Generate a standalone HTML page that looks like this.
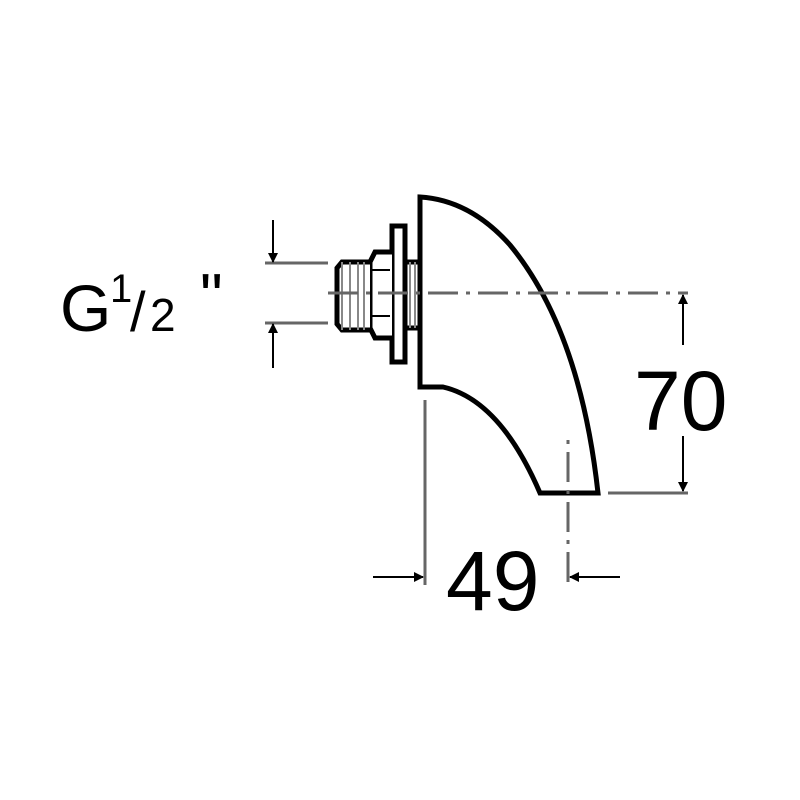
<!DOCTYPE html>
<html><head><style>body{margin:0;background:#fff}svg{display:block}</style></head><body>
<svg width="800" height="800" viewBox="0 0 800 800" xmlns="http://www.w3.org/2000/svg">
<defs><marker id="a" markerWidth="10" markerHeight="10" refX="9" refY="5" orient="auto" markerUnits="userSpaceOnUse"><path d="M0,0 L10,5 L0,10 Z" fill="#000"/></marker></defs>
<g fill="none" stroke="#000" stroke-width="5">
<path d="M420,197 Q470,200 510,245 Q580,330 598,493 L540,493 Q500,400 443,387 L420,387 Z" fill="#fff"/>
<rect x="392" y="226" width="13" height="136" fill="#fff"/>
<path d="M392,252 L375,252 L370,262 L370,328 L375,338 L392,338" fill="#fff"/>
<path d="M370,262 L342,262 L337,268 L337,324 L342,330 L370,330" fill="#fff"/>
<path d="M405,262 L420,262 M405,328 L420,328"/>
</g>
<g stroke="#000" stroke-width="2" fill="none">
<path d="M342,262 V330 M350,262 V330 M358,262 V330 M364,262 V330 M410,262 V328 M415,262 V328" stroke="#888"/>
<path d="M372,270 H390 M372,316 H390" />
</g>
<g stroke="#666" stroke-width="3" fill="none">
<line x1="265" y1="263" x2="328" y2="263"/>
<line x1="265" y1="323" x2="328" y2="323"/>
<line x1="328" y1="293" x2="688" y2="293" stroke-dasharray="30,8,4,8"/>
<line x1="608" y1="493" x2="688" y2="493"/>
<line x1="425" y1="400" x2="425" y2="585"/>
<line x1="568" y1="440" x2="568" y2="585" stroke-dasharray="4,8,30,8"/>
</g>
<g stroke="#000" stroke-width="2">
<line x1="273" y1="220" x2="273" y2="262" marker-end="url(#a)"/>
<line x1="273" y1="368" x2="273" y2="324" marker-end="url(#a)"/>
<line x1="683" y1="345" x2="683" y2="295" marker-end="url(#a)"/>
<line x1="683" y1="436" x2="683" y2="491" marker-end="url(#a)"/>
<line x1="373" y1="577" x2="423" y2="577" marker-end="url(#a)"/>
<line x1="620" y1="577" x2="570" y2="577" marker-end="url(#a)"/>
</g>
<g font-family="Liberation Sans, sans-serif" fill="#000">
<text x="60" y="331" font-size="66">G</text>
<text x="110" y="302" font-size="40">1</text>
<text x="130" y="331" font-size="56">/</text>
<text x="150" y="331" font-size="46">2</text>
<text x="200" y="318" font-size="64">"</text>
<text x="634" y="430" font-size="84">70</text>
<text x="446" y="610" font-size="84">49</text>
</g>
</svg>
</body></html>
